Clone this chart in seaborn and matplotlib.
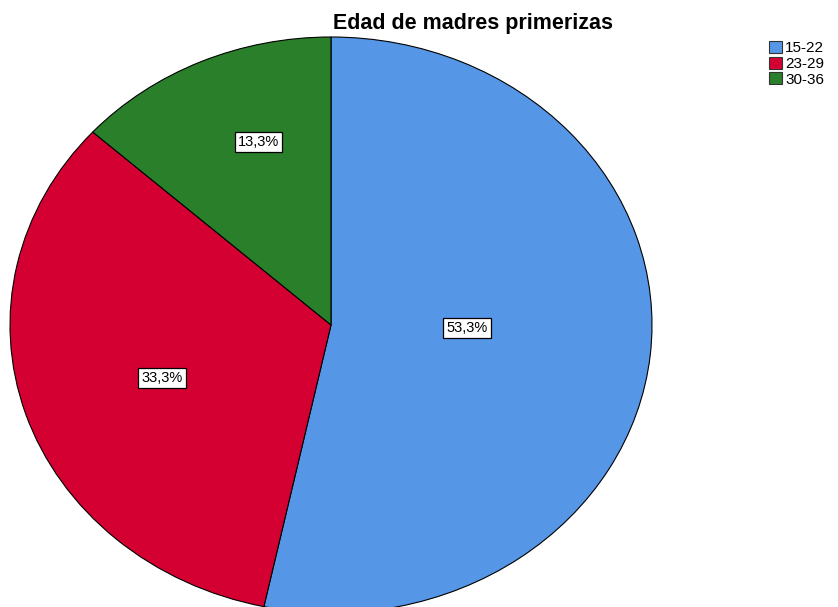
import numpy as np
import matplotlib
matplotlib.use("Agg")
import matplotlib.pyplot as plt
import seaborn as sns
from matplotlib.patches import Patch

# datos
grupos = ["15-22", "23-29", "30-36"]
porcentajes = [53.3, 33.3, 13.3]
colores = ["#5596E6", "#D50032", "#2A7F2A"]

# colocación de etiquetas (radio, desvío angular en grados)
dist_etiquetas = [0.424, 0.558, 0.674]
desvio_etiquetas = [4.5, 1.4, -4.4]

sns.set_style("white")
plt.rcParams['font.family'] = ['Liberation Sans', 'DejaVu Sans']
plt.rcParams['text.color'] = 'black'

fig = plt.figure(figsize=(8.38, 6.07), dpi=100)
ax = fig.add_axes([10 / 838, -6 / 607, 642 / 838, 576 / 607])
wedges, _ = ax.pie(porcentajes, colors=sns.color_palette(colores), startangle=90,
                   counterclock=False, radius=1,
                   wedgeprops=dict(edgecolor='black', linewidth=0.8))
ax.set_aspect('auto')
ax.set_xlim(-1, 1)
ax.set_ylim(-1, 1)
ax.axis('off')

for w, p, d, off in zip(wedges, porcentajes, dist_etiquetas, desvio_etiquetas):
    ang = np.deg2rad((w.theta1 + w.theta2) / 2 + off)
    ax.text(d * np.cos(ang), d * np.sin(ang), f"{p:.1f}%".replace('.', ','),
            ha='center', va='center', fontsize=10.5, color='black',
            bbox=dict(boxstyle='square,pad=0.22', fc='white', ec='black', lw=0.9))

fig.text(473 / 838, 1 - 24 / 607, "Edad de madres primerizas", ha='center', va='center',
         fontsize=15.5, fontweight='bold', color='black')

handles = [Patch(facecolor=c, edgecolor='#333333', linewidth=0.8) for c in colores]
leg = fig.legend(handles, grupos, loc='upper left', bbox_to_anchor=(769 / 838, 1 - 41 / 607),
                 frameon=False, fontsize=11, handlelength=0.85, handleheight=0.85,
                 handletextpad=0.2, labelspacing=0.08, borderpad=0, borderaxespad=0)
for t in leg.get_texts():
    t.set_color('black')

fig.savefig("out.png", dpi=100)
